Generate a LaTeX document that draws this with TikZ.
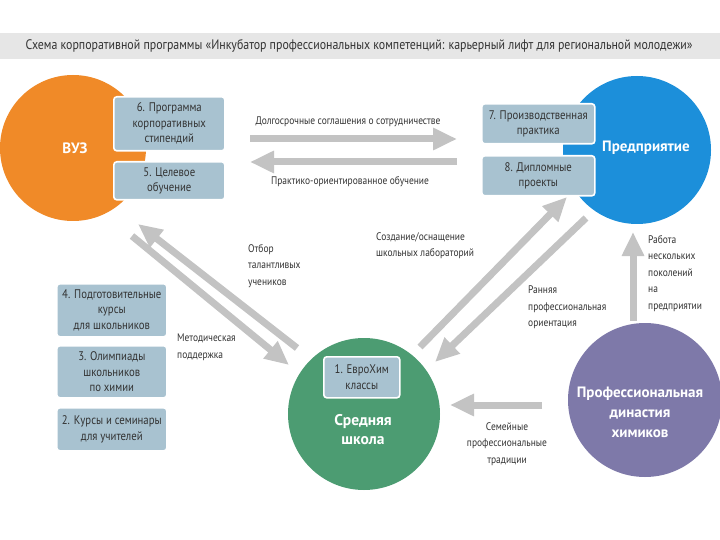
\documentclass[tikz,border=0pt]{standalone}
\usepackage{fontspec}
\setmainfont{PT Sans}[FakeStretch=0.86]
\newfontfamily\titlefont{PT Sans}
\usetikzlibrary{arrows.meta}
\definecolor{orng}{HTML}{F08A28}
\definecolor{blu}{HTML}{1C8FDA}
\definecolor{grn}{HTML}{4C9C72}
\definecolor{purp}{HTML}{7E79A9}
\definecolor{bx}{HTML}{A8C2D0}
\definecolor{arr}{HTML}{C3C3C3}
\definecolor{txt}{HTML}{333333}
\definecolor{bar}{HTML}{E6E6E6}
\tikzset{
  bigcirc/.style={circle, inner sep=0pt, minimum size=#1},
  ctitle/.style={text=white, font=\titlefont\fontsize{15}{19}\selectfont\bfseries, align=center},
  itembox/.style={rounded corners=3pt, fill=bx, draw=white, line width=1.6pt, text=txt,
     font=\fontsize{12.5}{15.5}\selectfont, align=center, inner sep=0pt, anchor=north west},
  lbl/.style={text=txt, font=\fontsize{11}{16.5}\selectfont, inner sep=0pt},
  fat/.style={draw=arr, line width=7pt, -{Triangle[length=24pt,width=21pt]}},
}
\begin{document}
\begin{tikzpicture}[x=1pt,y=-1pt]
\useasboundingbox (0,0) rectangle (720,540);
\fill[white] (0,0) rectangle (720,540);
% title bar
\fill[bar] (0,33) rectangle (720,59);
\node[text=txt, font=\fontsize{13.8}{15}\selectfont, inner sep=0pt] (title) at (359,46)
  {Схема корпоративной программы «Инкубатор профессиональных компетенций: карьерный лифт для региональной молодежи»};

% circles
\node[bigcirc=146pt, fill=orng] (vuz) at (73,148) {};
\node[ctitle] (vuzt) at (75,148) {ВУЗ};
\node[bigcirc=148pt, fill=blu] (ent) at (637,150) {};
\node[ctitle] (entt) at (646,148) {Предприятие};
\node[bigcirc=152pt, fill=grn] (sch) at (364,414) {};
\node[ctitle, font=\titlefont\fontsize{15.5}{19}\selectfont\bfseries] (scht) at (363,430) {Средняя\\школа};
\node[bigcirc=154pt, fill=purp] (dyn) at (645,400) {};
\node[ctitle, font=\titlefont\fontsize{15}{20}\selectfont\bfseries] (dynt) at (640,412) {Профессиональная\\династия\\химиков};

% boxes
\node[itembox, minimum width=111pt, minimum height=54pt] (b6) at (113,96) {6. Программа\\корпоративных\\стипендий};
\node[itembox, minimum width=111pt, minimum height=38pt] (b5) at (113,161) {5. Целевое\\обучение};
\node[itembox, minimum width=113pt, minimum height=40pt] (b7) at (481,103) {7. Производственная\\практика};
\node[itembox, minimum width=113pt, minimum height=40pt] (b8) at (481,155) {8. Дипломные\\проекты};
\node[itembox, minimum width=110pt, minimum height=53pt] (b4) at (56,283) {4. Подготовительные\\курсы\\для школьников};
\node[itembox, minimum width=110pt, minimum height=52pt] (b3) at (56,345) {3. Олимпиады\\школьников\\по химии};
\node[itembox, minimum width=110pt, minimum height=43pt] (b2) at (56,407) {2. Курсы и семинары\\для учителей};
\node[itembox, minimum width=76pt, minimum height=41pt] (b1) at (323,356) {1. ЕвроХим\\классы};

% arrow end points
\coordinate (a1s) at (250,139); \coordinate (a1e) at (457,139);
\coordinate (a2s) at (457,162); \coordinate (a2e) at (250,162);
\coordinate (a3s) at (297,348); \coordinate (a3e) at (138,224);
\coordinate (a4s) at (132,236); \coordinate (a4e) at (289,365);
\coordinate (a5s) at (420,347); \coordinate (a5e) at (567,197);
\coordinate (a6s) at (586,218); \coordinate (a6e) at (435,362);
\coordinate (a7s) at (633,321); \coordinate (a7e) at (633,232);
\coordinate (a8s) at (542,405); \coordinate (a8e) at (450,405);

\draw[fat] (a1s) -- (a1e);
\draw[fat] (a2s) -- (a2e);
\draw[fat] (a3s) -- (a3e);
\draw[fat] (a4s) -- (a4e);
\draw[fat] (a5s) -- (a5e);
\draw[fat] (a6s) -- (a6e);
\draw[fat] (a7s) -- (a7e);
\draw[fat] (a8s) -- (a8e);

% labels
\node[lbl] (l1) at (348,122) {Долгосрочные соглашения о сотрудничестве};
\node[lbl] (l2) at (350,182) {Практико-ориентированное обучение};
\node[lbl, align=left, anchor=north west] (l3) at (248,244) {Отбор\\талантливых\\учеников};
\node[lbl, align=left, anchor=north west] (l4) at (177,334) {Методическая\\поддержка};
\node[lbl, align=left, anchor=north west] (l5) at (376,232) {Создание/оснащение\\школьных лабораторий};
\node[lbl, align=left, anchor=north west] (l6) at (528,286) {Ранняя\\профессиональная\\ориентация};
\node[lbl, align=left, anchor=north west] (l7) at (648,235) {Работа\\нескольких\\поколений\\на\\предприятии};
\node[lbl, align=center, anchor=north] (l8) at (507,422) {Семейные\\профессиональные\\традиции};
\end{tikzpicture}
\end{document}
